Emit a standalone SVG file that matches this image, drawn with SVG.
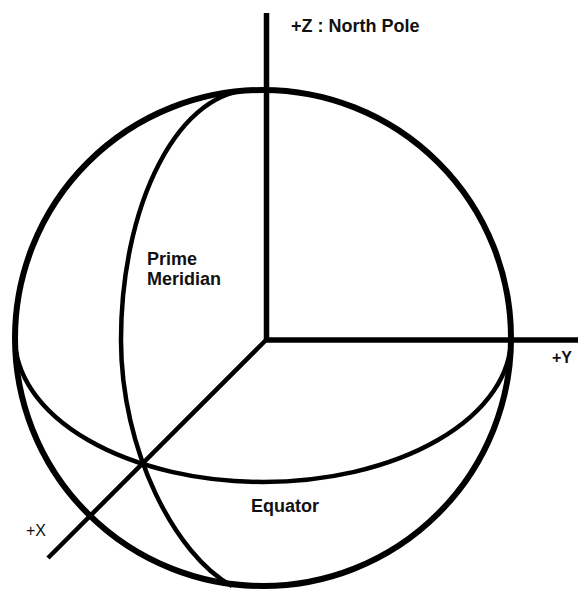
<svg xmlns="http://www.w3.org/2000/svg" width="578" height="589" viewBox="0 0 578 589">
<style>
.line{fill:none;stroke:#000;stroke-linecap:butt}
.lbl{font-family:"Liberation Sans",Arial,sans-serif;font-size:18px;font-weight:bold;fill:#111}
.ax{font-family:"Liberation Sans",Arial,sans-serif;font-size:16px;fill:#111}
</style>
<rect width="578" height="589" fill="#fff"/>
<g id="sphere">
<circle class="line" cx="263" cy="338" r="248" stroke-width="6"/>
</g>
<g id="equator">
<path class="line" stroke-width="4.5" d="M15,338 A248,144 0 0 0 511,338"/>
</g>
<g id="meridian">
<path class="line" stroke-width="4.5" d="M252,90 A131,250 0 0 0 121,340 C121,450 175,555 232,586"/>
</g>
<g id="axes">
<line class="line" stroke-width="5.5" x1="266.5" y1="13" x2="266.5" y2="342"/>
<line class="line" stroke-width="5.5" x1="264" y1="340" x2="578" y2="340"/>
<line class="line" stroke-width="4.5" x1="267" y1="339" x2="48" y2="558"/>
</g>
<g id="labels">
<text class="lbl" x="291" y="32">+Z : North Pole</text>
<text class="lbl" x="147" y="265">Prime</text>
<text class="lbl" x="147" y="285">Meridian</text>
<text class="lbl" x="251" y="512">Equator</text>
<text class="ax" x="552" y="363" font-weight="bold">+Y</text>
<text class="ax" x="26" y="536">+X</text>
</g>
</svg>
